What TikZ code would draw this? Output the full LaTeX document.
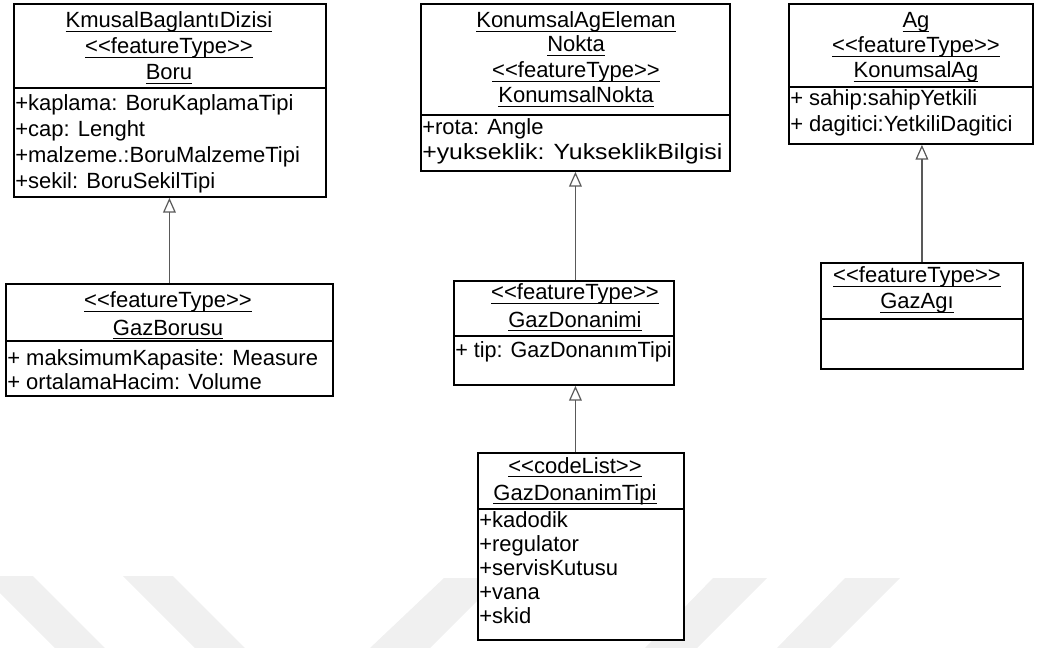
\documentclass[tikz,border=0pt]{standalone}
\usepackage{fontspec}
\setmainfont{Liberation Sans}[Ligatures=TeXOff]
\usetikzlibrary{arrows.meta}
% underline at a fixed depth below the baseline
\newcommand\ulx[1]{\sbox0{#1}\rlap{\rule[-3.3pt]{\wd0}{1.1pt}}\usebox0}

\begin{document}
\begin{tikzpicture}[x=0.75pt,y=-0.75pt,
  clsbox/.style 2 args={draw=black,line width=1.4pt,rectangle,inner sep=0pt,
    minimum width={#1*0.75pt},minimum height={#2*0.75pt},anchor=north west},
  sepline/.style={draw=black,line width=0.8pt},
  hdr/.style={anchor=base,inner sep=0pt,font=\fontsize{16.5}{19}\selectfont},
  attr/.style={anchor=base west,inner sep=0pt,font=\fontsize{16.5}{19}\selectfont},
  gen/.style={draw=black!65,line width=0.9pt,
    -{Triangle[open,length=11pt,width=9.5pt,line width=0.9pt]}},
  wmark/.style={fill=black!6,draw=none}]

\useasboundingbox (0,0) rectangle (1041,648);

% faint background bands
\begin{scope}
  \clip (0,0) rectangle (1041,648);
  \fill[wmark] (-17,576) -- (33,576) -- (105,648) -- (55,648) -- cycle;
  \fill[wmark] (123,576) -- (173,576) -- (245,648) -- (195,648) -- cycle;
  \fill[wmark] (444,578) -- (500,578) -- (430,648) -- (370,648) -- cycle;
  \fill[wmark] (713,578) -- (767,578) -- (697,648) -- (645,648) -- cycle;
  \fill[wmark] (845,578) -- (900,578) -- (830,648) -- (777,648) -- cycle;
\end{scope}

% class boxes
\node[clsbox={312}{193},fill=white] (boru) at (13,3) {};
\node[clsbox={327}{112},fill=white] (gazborusu) at (5,283) {};
\node[clsbox={309}{167},fill=white] (konumsalnokta) at (420,3) {};
\node[clsbox={220}{104},fill=white] (gazdonanimi) at (453,280) {};
\node[clsbox={206}{187},fill=white] (gazdonanimtipi) at (477,452) {};
\node[clsbox={244}{140},fill=white] (konumsalag) at (788,3) {};
\node[clsbox={202}{106},fill=white] (gazagi) at (820,262) {};

% compartment separators
\draw[sepline] (boru.west |- 0,88) -- (boru.east |- 0,88);
\draw[sepline] (gazborusu.west |- 0,341) -- (gazborusu.east |- 0,341);
\draw[sepline] (konumsalnokta.west |- 0,115) -- (konumsalnokta.east |- 0,115);
\draw[sepline] (gazdonanimi.west |- 0,336) -- (gazdonanimi.east |- 0,336);
\draw[sepline] (gazdonanimtipi.west |- 0,509) -- (gazdonanimtipi.east |- 0,509);
\draw[sepline] (konumsalag.west |- 0,87) -- (konumsalag.east |- 0,87);
\draw[sepline] (gazagi.west |- 0,319) -- (gazagi.east |- 0,319);

% Boru
\node[hdr] (boru-h1) at (169,28) {\ulx{KmusalBaglantıDizisi}};
\node[hdr] (boru-h2) at (169,54) {\ulx{<<featureType>>}};
\node[hdr] (boru-h3) at (169,80) {\ulx{Boru}};
\node[attr] (boru-a1) at (15,111) {+kaplama: BoruKaplamaTipi};
\node[attr] (boru-a2) at (15,137) {+cap: Lenght};
\node[attr] (boru-a3) at (15,163) {+malzeme.:BoruMalzemeTipi};
\node[attr] (boru-a4) at (15,189) {+sekil: BoruSekilTipi};

% GazBorusu
\node[hdr] (gazborusu-h1) at (168,308) {\ulx{<<featureType>>}};
\node[hdr] (gazborusu-h2) at (168,335) {\ulx{GazBorusu}};
\node[attr] (gazborusu-a1) at (7,365) {+ maksimumKapasite: Measure};
\node[attr] (gazborusu-a2) at (7,389) {+ ortalamaHacim: Volume};

% KonumsalNokta
\node[hdr] (konumsalnokta-h1) at (576,28) {\ulx{KonumsalAgEleman}};
\node[hdr] (konumsalnokta-h2) at (576,52) {\ulx{Nokta}};
\node[hdr] (konumsalnokta-h3) at (576,78) {\ulx{<<featureType>>}};
\node[hdr] (konumsalnokta-h4) at (576,103) {\ulx{KonumsalNokta}};
\node[attr] (konumsalnokta-a1) at (422,135) {+rota: Angle};
\node[attr] (konumsalnokta-a2) at (422,160) {\scalebox{1.13}[1]{+yukseklik: YukseklikBilgisi}};

% GazDonanimi
\node[hdr] (gazdonanimi-h1) at (575,300) {\ulx{<<featureType>>}};
\node[hdr] (gazdonanimi-h2) at (575,327) {\ulx{GazDonanimi}};
\node[attr] (gazdonanimi-a1) at (455,357) {\scalebox{0.98}[1]{+ tip: GazDonanımTipi}};

% GazDonanimTipi
\node[hdr] (gazdonanimtipi-h1) at (575,473) {\ulx{<<codeList>>}};
\node[hdr] (gazdonanimtipi-h2) at (575,500) {\ulx{GazDonanimTipi}};
\node[attr] (gazdonanimtipi-a1) at (479,527) {+kadodik};
\node[attr] (gazdonanimtipi-a2) at (479,551) {+regulator};
\node[attr] (gazdonanimtipi-a3) at (479,575) {+servisKutusu};
\node[attr] (gazdonanimtipi-a4) at (479,599) {+vana};
\node[attr] (gazdonanimtipi-a5) at (479,623) {+skid};

% KonumsalAg
\node[hdr] (konumsalag-h1) at (916,28) {\ulx{Ag}};
\node[hdr] (konumsalag-h2) at (916,53) {\ulx{<<featureType>>}};
\node[hdr] (konumsalag-h3) at (916,78) {\ulx{KonumsalAg}};
\node[attr] (konumsalag-a1) at (790,106) {+ sahip:sahipYetkili};
\node[attr] (konumsalag-a2) at (790,132) {+ dagitici:YetkiliDagitici};

% GazAgı
\node[hdr] (gazagi-h1) at (917,283) {\ulx{<<featureType>>}};
\node[hdr] (gazagi-h2) at (917,309) {\ulx{GazAgı}};

% generalizations
\draw[gen] (gazborusu.north) -- (gazborusu.north |- boru.south);
\draw[gen] (gazdonanimi.north -| konumsalnokta.south) -- (konumsalnokta.south);
\draw[gen] (gazdonanimtipi.north -| konumsalnokta.south) -- (gazdonanimi.south -| konumsalnokta.south);
\draw[gen] (gazagi.north) -- (gazagi.north |- konumsalag.south);
\end{tikzpicture}
\end{document}
